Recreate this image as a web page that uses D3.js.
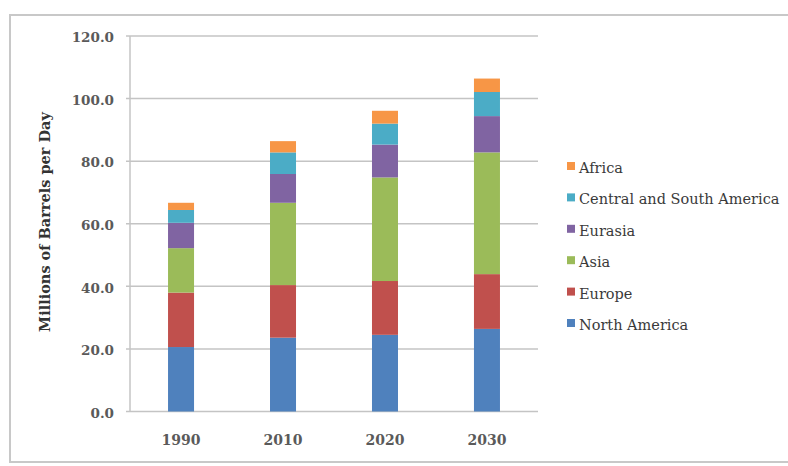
<!DOCTYPE html>
<html>
<head>
<meta charset="utf-8">
<script src="https://cdn.jsdelivr.net/npm/d3@7"></script>
<style>
  body { margin: 0; background: #fff; }
  svg { display: block; }
</style>
</head>
<body>
<script>
// data
var years = ["1990", "2010", "2020", "2030"];
var regions = ["North America", "Europe", "Asia", "Eurasia", "Central and South America", "Africa"];
var northAmerica = [20.6, 23.6, 24.5, 26.4];
var europe       = [17.4, 16.8, 17.2, 17.5];
var asia         = [14.2, 26.3, 33.1, 38.9];
var eurasia      = [8.1, 9.2, 10.5, 11.6];
var centralSouth = [4.1, 6.9, 6.7, 7.7];
var africa       = [2.3, 3.6, 4.1, 4.3];
var yTicks = [0, 20, 40, 60, 80, 100, 120];
var colors = ["#4F81BD", "#C0504D", "#9BBB59", "#8064A2", "#4BACC6", "#F79646"];

var w = 788, h = 466;
var plot = { left: 130, right: 538, top: 36, bottom: 411.5 };
var serif = "DejaVu Serif, Liberation Serif, serif";

var svg = d3.select("body").append("svg")
    .attr("width", w)
    .attr("height", h);

// outer chart frame
svg.append("rect")
    .attr("x", 10).attr("y", 15)
    .attr("width", 790).attr("height", 447)
    .style("fill", "#fff")
    .style("stroke", "#c8c8c8")
    .style("stroke-width", 2);

var table = years.map(function(y, i) {
    return {
        year: y,
        "North America": northAmerica[i],
        "Europe": europe[i],
        "Asia": asia[i],
        "Eurasia": eurasia[i],
        "Central and South America": centralSouth[i],
        "Africa": africa[i]
    };
});

var stacked = d3.stack().keys(regions)(table);

var x = d3.scaleBand()
    .domain(years)
    .range([plot.left, plot.right])
    .paddingInner(0.745)
    .paddingOuter(0.373);

var y = d3.scaleLinear()
    .domain([0, 120])
    .range([plot.bottom, plot.top]);

var color = d3.scaleOrdinal().domain(regions).range(colors);

// gridlines
svg.append("g")
    .selectAll("line")
    .data(yTicks)
    .enter()
    .append("line")
    .attr("x1", plot.left - 4)
    .attr("x2", plot.right)
    .attr("y1", d => y(d))
    .attr("y2", d => y(d))
    .style("stroke", "#c4c4c4")
    .style("stroke-width", 1.5);

// y axis line
svg.append("line")
    .attr("x1", plot.left).attr("x2", plot.left)
    .attr("y1", plot.top).attr("y2", plot.bottom)
    .style("stroke", "#c4c4c4")
    .style("stroke-width", 1.5);

// y tick labels
var yAxis = d3.axisLeft(y)
    .tickValues(yTicks)
    .tickFormat(d3.format(".1f"))
    .tickSize(0)
    .tickPadding(16);

var gy = svg.append("g")
    .attr("transform", "translate(" + plot.left + ",0)")
    .call(yAxis);
gy.select(".domain").remove();
gy.selectAll("text")
    .attr("dy", "0.42em")
    .style("font-family", serif)
    .style("font-size", "13.5px")
    .style("font-weight", "bold")
    .style("fill", "#5a5a5a");

// stacked bars
svg.append("g")
    .selectAll("g")
    .data(stacked)
    .enter()
    .append("g")
    .style("fill", d => color(d.key))
    .selectAll("rect")
    .data(d => d)
    .enter()
    .append("rect")
    .attr("x", d => x(d.data.year))
    .attr("width", x.bandwidth())
    .attr("y", d => y(d[1]))
    .attr("height", d => y(d[0]) - y(d[1]));

// x labels
var xAxis = d3.axisBottom(x).tickSize(0).tickPadding(24);
var gx = svg.append("g")
    .attr("transform", "translate(0," + plot.bottom + ")")
    .call(xAxis);
gx.select(".domain").remove();
gx.selectAll("text")
    .style("font-family", serif)
    .style("font-size", "14px")
    .style("font-weight", "bold")
    .style("fill", "#5a5a5a");

// y title
svg.append("text")
    .attr("transform", "translate(45,222) rotate(-90)")
    .attr("text-anchor", "middle")
    .attr("dy", "0.35em")
    .style("font-family", serif)
    .style("font-size", "14.5px")
    .style("font-weight", "bold")
    .style("fill", "#333")
    .text("Millions of Barrels per Day");

// legend, top entry is the top of the stack
var legendItems = regions.slice().reverse();
var legend = svg.append("g")
    .selectAll("g")
    .data(legendItems)
    .enter()
    .append("g")
    .attr("transform", (d, i) => "translate(567," + (168 + i * 31.4) + ")");

legend.append("rect")
    .attr("x", 0).attr("y", -6)
    .attr("width", 8).attr("height", 8)
    .style("fill", d => color(d));

legend.append("text")
    .attr("x", 12)
    .attr("dy", "0.35em")
    .style("font-family", serif)
    .style("font-size", "14.5px")
    .style("fill", "#3a3a3a")
    .text(d => d);
</script>
</body>
</html>
